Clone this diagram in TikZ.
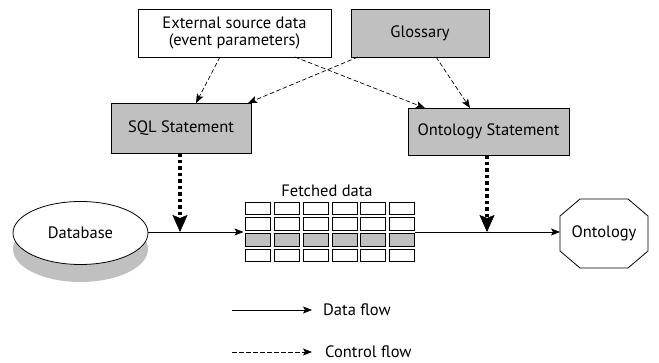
\documentclass[tikz,border=0pt]{standalone}
\usepackage{fontspec}
\setmainfont{PT Sans}
\usetikzlibrary{arrows.meta,shapes.geometric}
\definecolor{boxgray}{RGB}{192,192,192}
\tikzset{
  box/.style={draw=black, line width=0.8pt, minimum width=#1, minimum height=48pt, inner sep=0pt, font=\fontsize{16.5}{19}\selectfont, align=center},
  box/.default=140pt,
  cell/.style={draw=black, line width=0.8pt, minimum width=25pt, minimum height=12.5pt, inner sep=0pt},
  dflow/.style={line width=0.7pt, -{Stealth[length=9pt,width=7pt,inset=2pt]}},
  cflow/.style={line width=0.7pt, dash pattern=on 4.5pt off 2.5pt, -{Stealth[length=9pt,width=7pt,inset=2pt]}},
  thickdot/.style={line width=3.5pt, dash pattern=on 3.5pt off 3pt, -{Stealth[length=17pt,width=15pt,inset=3pt,line width=0.5pt]}},
  lbl/.style={font=\fontsize{16.5}{19}\selectfont, inner sep=0pt}
}
\begin{document}
\begin{tikzpicture}[x=1pt,y=-1pt]
\useasboundingbox (0,0) rectangle (659,363);
% boxes
\node[box=193pt, minimum height=48pt, fill=white, font=\fontsize{16.5}{16.5}\selectfont] (ext) at (234.5,33) {External source data\\(event parameters)};
\node[box=138pt, fill=boxgray] (glo) at (420,33) {Glossary};
\node[box=140pt, minimum height=50pt, fill=boxgray] (sql) at (181,128) {SQL Statement};
\node[box=161pt, minimum height=47pt, fill=boxgray] (ont) at (488.5,131.5) {Ontology Statement};
% database
\fill[boxgray] (80.5,249) ellipse [x radius=67.5pt, y radius=33pt];
\node[draw=black, line width=0.8pt, fill=white, ellipse, minimum width=135pt, minimum height=63pt, inner sep=0pt, font=\fontsize{16.5}{19}\selectfont] (db) at (80.5,233) {Database};
% ontology octagon
\draw[line width=0.8pt] (580,199) -- (628,199) -- (648,216) -- (648,251) -- (628,268) -- (580,268) -- (560,251) -- (560,216) -- cycle;
\node[lbl] (onto) at (604,233.5) {Ontology};
\coordinate (ontw) at (560,232);
% table
\foreach \c in {0,...,5}{
  \foreach \r in {0,...,3}{
    \pgfmathsetmacro{\xx}{258+28.8*\c}
    \pgfmathsetmacro{\yy}{208.5+15.6*\r}
    \ifnum\r=2
      \node[cell, fill=boxgray] (c\c\r) at (\xx,\yy) {};
    \else
      \node[cell, fill=white] (c\c\r) at (\xx,\yy) {};
    \fi
  }
}
\node[lbl] (fet) at (327,191) {Fetched data};
\coordinate (tin) at (243.5,232);
\coordinate (tout) at (414.5,232);
\coordinate (j1) at (180,232);
\coordinate (j2) at (487,232);
% data flow
\draw[line width=0.7pt] (db.east |- tin) -- (j1);
\draw[dflow] (j1) -- (tin);
\draw[line width=0.7pt] (tout) -- (j2);
\draw[dflow] (j2) -- (ontw);
% thick dotted
\draw[thickdot] (sql.south -| j1) -- (j1);
\draw[thickdot] (ont.south -| j2) -- (j2);
% control flow
\coordinate (e1) at (220,57); \coordinate (s1) at (196,103);
\coordinate (g1) at (358,57); \coordinate (s2) at (248,103);
\coordinate (e2) at (295,57); \coordinate (o1) at (425,108);
\coordinate (g2) at (436,57); \coordinate (o2) at (470,108);
\draw[cflow] (e1) -- (s1);
\draw[cflow] (g1) -- (s2);
\draw[cflow] (e2) -- (o1);
\draw[cflow] (g2) -- (o2);
% legend
\coordinate (la) at (232,310); \coordinate (lb) at (312,310);
\coordinate (lc) at (232,352); \coordinate (ld) at (312,352);
\draw[dflow] (la) -- (lb);
\draw[cflow] (lc) -- (ld);
\node[lbl, anchor=west] (ldf) at (323,310) {Data flow};
\node[lbl, anchor=west] (lcf) at (325,352) {Control flow};
\end{tikzpicture}
\end{document}
